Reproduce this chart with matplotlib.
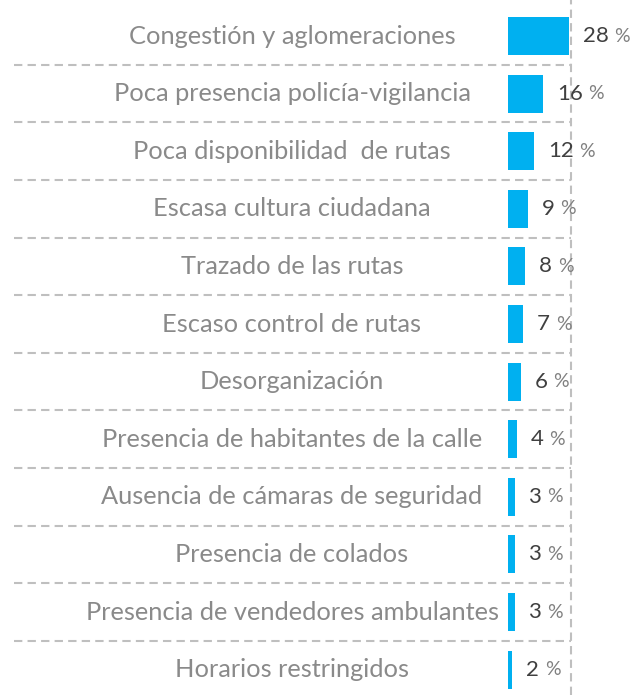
import matplotlib
matplotlib.use("Agg")
import matplotlib.pyplot as plt

categories = [
    "Congestión y aglomeraciones",
    "Poca presencia policía-vigilancia",
    "Poca disponibilidad  de rutas",
    "Escasa cultura ciudadana",
    "Trazado de las rutas",
    "Escaso control de rutas",
    "Desorganización",
    "Presencia de habitantes de la calle",
    "Ausencia de cámaras de seguridad",
    "Presencia de colados",
    "Presencia de vendedores ambulantes",
    "Horarios restringidos",
]
values = [28, 16, 12, 9, 8, 7, 6, 4, 3, 3, 3, 2]

plt.rcParams['font.family'] = ['Lato', 'DejaVu Sans']

W, H = 631, 695
fig = plt.figure(figsize=(W / 100, H / 100), dpi=100)
ax = fig.add_axes([0, 0, 1, 1])

px_per_unit = 2.18
x0 = 508
xmin = -x0 / px_per_unit
xmax = (W - x0) / px_per_unit
pitch = 57.6
y0 = 36
ax.set_xlim(xmin, xmax)
ax.set_ylim((H - y0) / pitch, -y0 / pitch)
ax.axis('off')

ypos = list(range(len(categories)))
ax.barh(ypos, values, height=0.66, color='#00B0F0', zorder=3)

label_x = (292 - x0) / px_per_unit
vline_x = (571 - x0) / px_per_unit
sep_left = (14 - x0) / px_per_unit

for i, (cat, v) in enumerate(zip(categories, values)):
    ax.text(label_x, i, cat, ha='center', va='center', fontsize=18.3,
            color='#8a8a8a')
    t = ax.annotate(str(v), xy=(v, i), xytext=(10, 0), textcoords='offset points',
                    ha='left', va='center', fontsize=16, color='#404040',
                    zorder=4)
    ax.annotate('%', xy=(1, 0.5), xycoords=t, xytext=(4, 0),
                textcoords='offset points', ha='left', va='center',
                fontsize=14, color='#808080', zorder=4)

for i in range(len(categories) - 1):
    ax.plot([sep_left, vline_x], [i + 0.5, i + 0.5], color='#bfbfbf',
            lw=1.5, ls=(0, (4, 2.5)), zorder=1)

ax.axvline(vline_x, color='#bfbfbf', lw=1.5, ls=(0, (4, 2.5)), zorder=1)

fig.savefig('out.png', dpi=100)
